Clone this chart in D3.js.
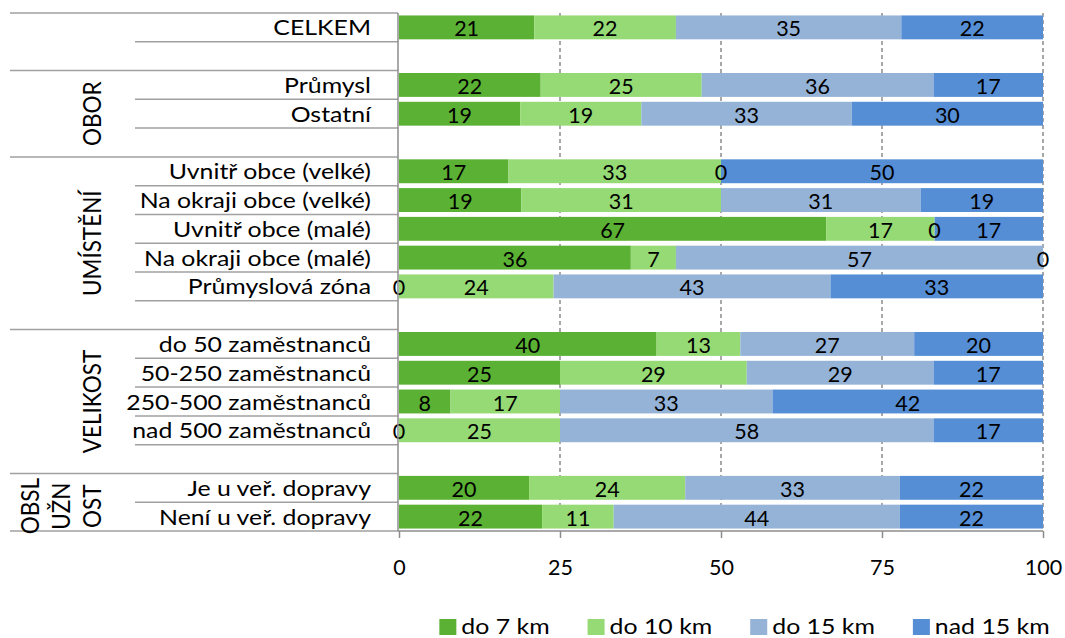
<!DOCTYPE html>
<html>
<head>
<meta charset="utf-8">
<script src="https://cdn.jsdelivr.net/npm/d3@7"></script>
<style>
  html, body { margin: 0; padding: 0; background: #fff; }
  svg { display: block; font-family: Lato, "Open Sans", sans-serif; }
</style>
</head>
<body>
<svg id="chart" width="1065" height="638"></svg>
<script>
// Rows of the chart, top to bottom; empty strings are spacer rows between groups
const categories = [
  "CELKEM", "",
  "Průmysl", "Ostatní", "",
  "Uvnitř obce (velké)", "Na okraji obce (velké)", "Uvnitř obce (malé)", "Na okraji obce (malé)", "Průmyslová zóna", "",
  "do 50 zaměstnanců", "50-250 zaměstnanců", "250-500 zaměstnanců", "nad 500 zaměstnanců", "",
  "Je u veř. dopravy", "Není u veř. dopravy"
];

// Row groups (number of rows each spans) and their labels, split into lines
const groupLabels = [[""], ["OBOR"], ["UMÍSTĚNÍ"], ["VELIKOST"], ["OBSL", "UŽN", "OST"]];
const groupSizes = [2, 3, 6, 5, 2];

// Series (distance to work)
const seriesNames = ["do 7 km", "do 10 km", "do 15 km", "nad 15 km"];
const seriesColors = ["#5bb133", "#95da74", "#95b3d7", "#558ed5"];

// Shares in percent per row (null = spacer row)
const do7km   = [21, null, 22, 19, null, 17, 19, 67, 36, 0, null, 40, 25, 8, 0, null, 20, 22];
const do10km  = [22, null, 25, 19, null, 33, 31, 17, 7, 24, null, 13, 29, 17, 25, null, 24, 11];
const do15km  = [35, null, 36, 33, null, 0, 31, 0, 57, 43, null, 27, 29, 33, 58, null, 33, 44];
const nad15km = [22, null, 17, 30, null, 50, 19, 17, 0, 33, null, 20, 17, 42, 17, null, 22, 22];

const xTicks = [0, 25, 50, 75, 100];

const seriesValues = [do7km, do10km, do15km, nad15km];

// Table for d3.stack
const table = categories.map((c, i) => {
  const row = { key: i, label: c, empty: do7km[i] === null };
  seriesNames.forEach((s, k) => { row[s] = seriesValues[k][i] === null ? 0 : seriesValues[k][i]; });
  return row;
});

const svg = d3.select("#chart");
const FONT = 21.5;      // numbers
const LABEL_FONT = 22;  // category / legend text
const WIDEN = 1.13;     // horizontal stretch of label text

const plot = { left: 399, right: 1043, top: 13, bottom: 531 };
const axisColor = "#8c8c8c";

const x = d3.scaleLinear().domain([0, 100]).range([plot.left, plot.right]);
const y = d3.scaleBand()
  .domain(categories.map((c, i) => i))
  .range([plot.top, plot.bottom])
  .paddingInner(0.17)
  .paddingOuter(0.085);
const step = y.step();

// 100 % stacked layout
const stacked = d3.stack().keys(seriesNames).offset(d3.stackOffsetExpand)(table);

// Dashed vertical gridlines
svg.append("g")
  .selectAll("line")
  .data(xTicks.filter(t => t > 0))
  .join("line")
  .attr("x1", d => x(d)).attr("x2", d => x(d))
  .attr("y1", plot.top).attr("y2", plot.bottom)
  .attr("stroke", axisColor)
  .attr("stroke-width", 1.5)
  .attr("stroke-dasharray", "4,3");

// Bars
const layers = svg.append("g")
  .selectAll("g")
  .data(stacked)
  .join("g")
  .attr("fill", (d, k) => seriesColors[k]);

layers.selectAll("rect")
  .data(d => d.filter(p => !p.data.empty))
  .join("rect")
  .attr("x", p => x(p[0] * 100))
  .attr("width", p => x(p[1] * 100) - x(p[0] * 100))
  .attr("y", p => y(p.data.key))
  .attr("height", y.bandwidth());

// Value labels, centred in each segment
stacked.forEach((layer, k) => {
  svg.append("g")
    .attr("font-size", FONT)
    .attr("fill", "#000")
    .attr("text-anchor", "middle")
    .selectAll("text")
    .data(layer.filter(p => !p.data.empty))
    .join("text")
    .attr("x", p => x((p[0] + p[1]) / 2 * 100))
    .attr("y", p => y(p.data.key) + y.bandwidth() / 2 + 9)
    .text(p => p.data[seriesNames[k]]);
});

// Row separator lines on the category side; group boundaries reach further left
const groupStarts = [0];
groupSizes.forEach((s, i) => groupStarts.push(groupStarts[i] + s));
const boundaries = d3.range(categories.length + 1);
svg.append("g")
  .selectAll("line")
  .data(boundaries)
  .join("line")
  .attr("x1", i => groupStarts.includes(i) ? 10 : 135)
  .attr("x2", plot.left - 1)
  .attr("y1", i => plot.top + i * step)
  .attr("y2", i => plot.top + i * step)
  .attr("stroke", "#a0a0a0")
  .attr("stroke-width", 1.5);

// Vertical category axis line
svg.append("line")
  .attr("x1", plot.left - 1).attr("x2", plot.left - 1)
  .attr("y1", plot.top).attr("y2", plot.bottom)
  .attr("stroke", axisColor).attr("stroke-width", 1.5);

// Category labels
svg.append("g")
  .attr("font-size", LABEL_FONT)
  .attr("text-anchor", "end")
  .selectAll("text")
  .data(categories.map((c, i) => ({ c, i })).filter(d => d.c))
  .join("text")
  .attr("transform", d => `translate(371,${y(d.i) + y.bandwidth() / 2 + 8}) scale(${WIDEN},1)`)
  .text(d => d.c);

// Group labels, rotated
groupLabels.forEach((lines, g) => {
  const yMid = plot.top + (groupStarts[g] + groupSizes[g] / 2) * step + (lines.length > 1 ? 4 : 0);
  const n = lines.length;
  lines.forEach((line, j) => {
    const bx = 101 - (n - 1 - j) * 31;
    svg.append("text")
      .attr("font-size", 22.5)
      .attr("text-anchor", "middle")
      .attr("transform", `translate(${bx},${yMid}) scale(1.12,1) rotate(-90)`)
      .text(line);
  });
});

// X axis
const xAxis = svg.append("g")
  .attr("transform", `translate(0,${plot.bottom})`)
  .call(d3.axisBottom(x).tickValues(xTicks).tickSize(7).tickSizeOuter(0).tickPadding(0).tickFormat(d3.format("d")));
xAxis.select(".domain").attr("stroke", axisColor).attr("stroke-width", 1.5)
  .attr("d", `M${plot.left - 1},0H${plot.right}`);
xAxis.selectAll(".tick line").attr("stroke", axisColor).attr("stroke-width", 1.5);
xAxis.selectAll(".tick text")
  .attr("font-family", "Lato, sans-serif")
  .attr("font-size", FONT)
  .attr("fill", "#000")
  .attr("dy", null)
  .attr("y", 44);

// Legend, centred below the plot
const legendBaseline = 634;
const legend = svg.append("g").attr("font-size", LABEL_FONT);
const items = seriesNames.map((name, k) => {
  const g = legend.append("g");
  g.append("rect").attr("width", 17).attr("height", 16).attr("y", -15).attr("fill", seriesColors[k]);
  const t = g.append("text").attr("transform", `translate(22,0) scale(${WIDEN},1)`).text(name);
  return { g, w: 22 + t.node().getComputedTextLength() * WIDEN };
});
const gap = 38;
const totalW = d3.sum(items, d => d.w) + gap * (items.length - 1);
let cx = 744.5 - totalW / 2;
items.forEach(it => {
  it.g.attr("transform", `translate(${cx},${legendBaseline})`);
  cx += it.w + gap;
});
</script>
</body>
</html>
